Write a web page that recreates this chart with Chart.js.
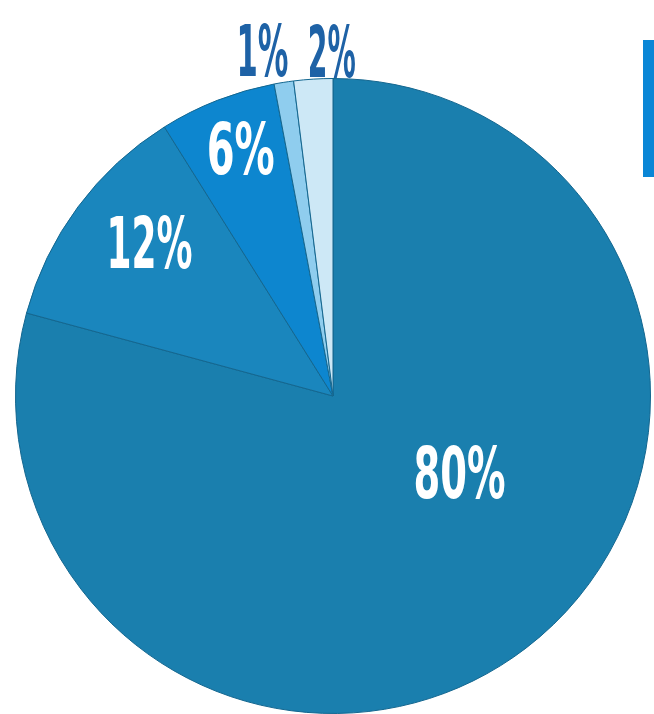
<!DOCTYPE html>
<html>
<head>
<meta charset="utf-8">
<script src="https://cdn.jsdelivr.net/npm/chart.js@4.4.0/dist/chart.umd.min.js"></script>
<style>
  html, body { margin: 0; padding: 0; background: #fff; }
  #wrap { position: relative; width: 654px; height: 714px; overflow: hidden; }
  #legendBox { position: absolute; left: 643px; top: 40px; width: 20px; height: 137px; background: #0a86d6; }
</style>
</head>
<body>
<div id="wrap">
  <canvas id="pie" width="654" height="714"></canvas>
  <div id="legendBox"></div>
</div>
<script>
  // slices, clockwise from 12 o'clock
  const shares = [80, 12, 6, 1, 2];
  const labels = ["80%", "12%", "6%", "1%", "2%"];
  const colors = ["#1a7fae", "#1a86bd", "#0d86cf", "#8fcdee", "#cde8f6"];

  // label placement: [fraction along the slice's arc, fraction of radius]
  const labelAt = [[0.433, 0.478], [0.55, 0.74], [0.52, 0.813], [-0.3, 1.09], [0.97, 1.065]];
  const labelWidth = [92, 86, 68, 52, 48];
  const labelInk = ["#fff", "#fff", "#fff", "#1e62a6", "#1e62a6"];

  const pctLabels = {
    id: "pctLabels",
    afterDatasetsDraw(chart) {
      const ctx = chart.ctx;
      const arcs = chart.getDatasetMeta(0).data;
      arcs.forEach((a, i) => {
        const p = a.getProps(["x", "y", "startAngle", "endAngle", "outerRadius"], true);
        const ang = p.startAngle + (p.endAngle - p.startAngle) * labelAt[i][0];
        const r = p.outerRadius * labelAt[i][1];
        const x = p.x + Math.cos(ang) * r, y = p.y + Math.sin(ang) * r;
        ctx.save();
        ctx.font = 'bold 72px "DejaVu Sans Condensed", "Liberation Sans Narrow", "DejaVu Sans", sans-serif';
        const w = ctx.measureText(labels[i]).width;
        ctx.translate(x, y);
        ctx.scale(labelWidth[i] / w, 1);
        ctx.fillStyle = labelInk[i];
        ctx.textAlign = "center";
        ctx.textBaseline = "middle";
        ctx.fillText(labels[i], 0, 0);
        ctx.restore();
      });
    }
  };

  new Chart(document.getElementById("pie"), {
    type: "pie",
    data: { labels: labels, datasets: [{ data: shares, backgroundColor: colors, borderColor: "#13668f", borderWidth: 1 }] },
    options: {
      responsive: false, animation: false,
      layout: { padding: { left: 14, right: 2, top: 78, bottom: 0 } },
      plugins: { legend: { display: false }, tooltip: { enabled: false } }
    },
    plugins: [pctLabels]
  });
</script>
</body>
</html>
